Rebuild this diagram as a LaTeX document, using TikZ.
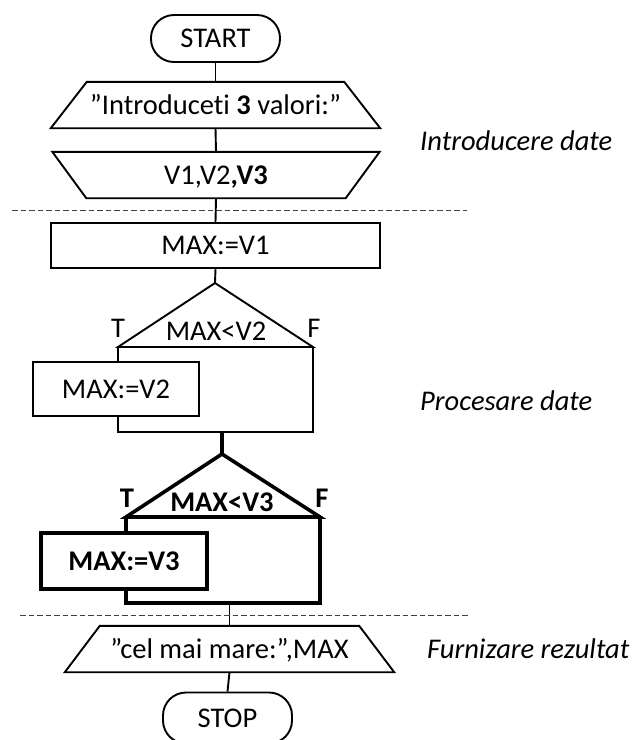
\documentclass[tikz,border=0pt]{standalone}
\usepackage{fontspec}
\setmainfont{Carlito}[Ligatures=NoCommon]
\begin{document}
\begin{tikzpicture}[x=1pt,y=-1pt,
  thinline/.style={line width=1.9pt, draw=black},
  thickline/.style={line width=3.6pt, draw=black},
  txt/.style={font=\fontsize{28.5}{34}\selectfont, text height=18.4pt, text depth=0pt, inner sep=0pt},
  term/.style={thinline, txt, rounded corners=23pt, minimum width=129pt, minimum height=47pt},
  procbox/.style={thinline, txt, fill=white, minimum width=#1},
  ioframe/.style={txt, minimum width=#1, minimum height=46pt},
  divider/.style={line width=0.9pt, dash pattern=on 5.5pt off 3pt, draw=black!75},
  phaselabel/.style={font=\fontsize{28.5}{34}\selectfont\itshape, anchor=base west, inner sep=0pt},
  lbl/.style={txt, anchor=base}
]
\useasboundingbox (0,0) rectangle (638,740);

% --- input section ---
\node[term] (start) at (215.5,38.5) {START};

\node[ioframe=329pt] (out1) at (215.5,105) {”Introduceti \textbf{3} valori:”};
\draw[thinline] (out1.south west) -- (out1.south east)
  -- ([xshift=-36pt]out1.north east) -- ([xshift=36pt]out1.north west) -- cycle;

\node[ioframe=327pt] (in1) at (216,175) {V1,V2\textbf{,V3}};
\draw[thinline] (in1.north west) -- (in1.north east)
  -- ([xshift=-34pt]in1.south east) -- ([xshift=34pt]in1.south west) -- cycle;

\draw[thinline] (start.south) -- (out1.north);
\draw[thinline] (out1.south) -- (in1.north);

\coordinate (sepAl) at (12,210);
\coordinate (sepAr) at (467,210);
\draw[divider] (sepAl) -- (sepAr);

% --- processing section ---
\node[procbox=329pt, minimum height=45pt] (max1) at (215.5,245.5) {MAX:=V1};
\draw[thinline] (in1.south) -- (max1.north);

% first decision
\coordinate (d1top) at (215,283);
\coordinate (d1l) at (118,347);
\coordinate (d1r) at (313,347);
\coordinate (d1bl) at (118,432);
\coordinate (d1br) at (313,432);
\draw[thinline] (max1.south) -- (d1top);
\draw[thinline] (d1top) -- (d1l) -- (d1r) -- cycle;
\draw[thinline] (d1l) -- (d1bl) -- (d1br) -- (d1r);
\node[lbl] (cond1) at (216,340) {MAX<V2};
\node[lbl] (t1) at (118,337) {T};
\node[lbl] (f1) at (314,337) {F};
\node[procbox=166pt, minimum height=54pt] (v2) at (116,389) {MAX:=V2};

% second decision
\coordinate (d1out) at (222,432);
\coordinate (d2top) at (222,454);
\coordinate (d2l) at (126,517);
\coordinate (d2r) at (320,517);
\coordinate (d2bl) at (126,603);
\coordinate (d2br) at (320,603);
\draw[thickline] (d1out) -- (d2top);
\draw[thickline] (d2top) -- (d2l) -- (d2r) -- cycle;
\draw[thickline] (d2l) -- (d2bl) -- (d2br) -- (d2r);
\node[lbl] (cond2) at (222,511) {\textbf{MAX<V3}};
\node[lbl] (t2) at (127,507) {\textbf{T}};
\node[lbl] (f2) at (322,507) {\textbf{F}};
\node[procbox=166pt, minimum height=56pt, line width=4pt] (v3) at (124,561) {\textbf{MAX:=V3}};

\coordinate (sepBl) at (20,615);
\coordinate (sepBr) at (469,615);

% --- output section ---
\node[ioframe=329pt] (out2) at (229.5,649) {”cel mai mare:”,MAX};
\draw[thinline] (out2.south west) -- (out2.south east)
  -- ([xshift=-35pt]out2.north east) -- ([xshift=35pt]out2.north west) -- cycle;
\coordinate (d2out) at (out2.north |- d2bl);
\draw[thinline] (d2out) -- (out2.north);
\draw[divider] (sepBl) -- (sepBr);

\node[term, minimum height=51pt] (stop) at (227.5,718) {STOP};
\draw[thinline] (out2.south) -- (stop.north);

% phase labels
\node[phaselabel] (ph1) at (420,150) {Introducere date};
\node[phaselabel] (ph2) at (420,410) {Procesare date};
\node[phaselabel] (ph3) at (427,658) {Furnizare rezultat};
\end{tikzpicture}
\end{document}
